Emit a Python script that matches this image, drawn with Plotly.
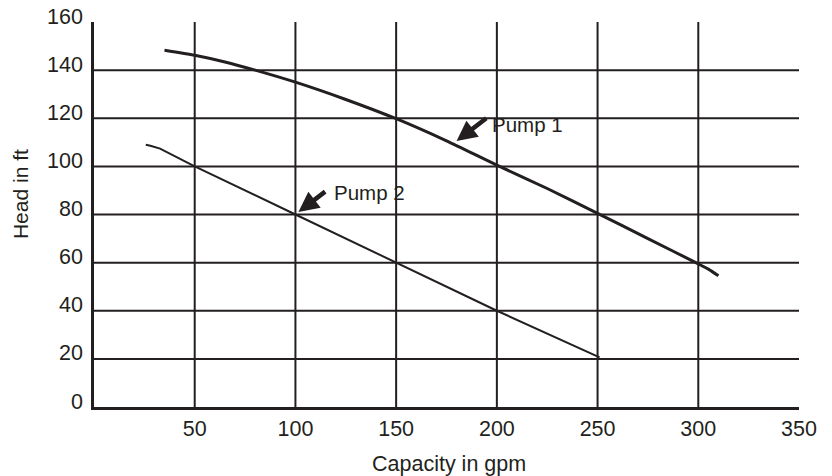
import plotly.graph_objects as go

# Data
pump1_x = [35, 50, 65, 80, 100, 125, 150, 175, 200, 225, 250, 275, 300, 305, 310]
pump1_y = [148.3, 146.2, 143.4, 140, 135, 127.8, 119.8, 110.6, 100.5, 90.8, 80.5, 70, 59.5, 57.3, 54.5]
pump2_x = [25.7, 28, 32.8, 50, 100, 150, 200, 251]
pump2_y = [109, 108.6, 107.4, 100, 80, 60, 40, 20.6]

x_ticks = [50, 100, 150, 200, 250, 300, 350]
y_ticks = [0, 20, 40, 60, 80, 100, 120, 140, 160]
x_grid = [50, 100, 150, 200, 250, 300]
y_grid = [20, 40, 60, 80, 100, 120, 140]
x_range = [0, 350]
y_range = [0, 160]

INK = "#231f20"
FONT = "Liberation Sans, Arial, sans-serif"

fig = go.Figure()
fig.add_trace(go.Scatter(x=pump1_x, y=pump1_y, mode="lines",
                         line=dict(color=INK, width=3, shape="spline", smoothing=0.6),
                         name="Pump 1", showlegend=False))
fig.add_trace(go.Scatter(x=pump2_x, y=pump2_y, mode="lines",
                         line=dict(color=INK, width=2), name="Pump 2",
                         showlegend=False))

shapes = []
for gx in x_grid:
    shapes.append(dict(type="line", xref="x", yref="y", x0=gx, x1=gx,
                       y0=y_range[0], y1=y_range[1],
                       line=dict(color=INK, width=2), layer="below"))
for gy in y_grid:
    shapes.append(dict(type="line", xref="x", yref="y", x0=x_range[0], x1=x_range[1],
                       y0=gy, y1=gy, line=dict(color=INK, width=2), layer="below"))

annotations = [
    dict(text="Head in ft", xref="paper", yref="paper", x=-0.105, y=0.553,
         textangle=-90, showarrow=False, xanchor="center", yanchor="middle",
         font=dict(size=21, color=INK, family=FONT)),
    dict(text="Capacity in gpm", xref="paper", yref="paper", x=0.503, y=-0.149,
         showarrow=False, xanchor="center", yanchor="middle",
         font=dict(size=21.5, color=INK, family=FONT)),
    dict(text="Pump 1", xref="x", yref="y", x=196.6, y=117.5, showarrow=False,
         xanchor="left", yanchor="middle", font=dict(size=20.5, color=INK, family=FONT)),
    dict(text="Pump 2", xref="x", yref="y", x=118, y=89.3, showarrow=False,
         xanchor="left", yanchor="middle", font=dict(size=20.5, color=INK, family=FONT)),
    dict(text="", xref="x", yref="y", x=180, y=110.5, axref="x", ayref="y",
         ax=195.5, ay=120.5, showarrow=True, arrowhead=2, arrowsize=0.9,
         arrowwidth=4.5, arrowcolor=INK),
    dict(text="", xref="x", yref="y", x=101.5, y=81, axref="x", ayref="y",
         ax=115.5, ay=90, showarrow=True, arrowhead=2, arrowsize=0.9,
         arrowwidth=4.5, arrowcolor=INK),
]

fig.update_layout(
    template="none",
    width=832, height=476,
    margin=dict(l=94, r=33, t=22, b=69, pad=0),
    paper_bgcolor="white", plot_bgcolor="white",
    shapes=shapes, annotations=annotations,
    font=dict(family=FONT, size=21.5, color=INK),
    xaxis=dict(range=x_range, tickvals=x_ticks, ticktext=[str(v) for v in x_ticks],
               showgrid=False, zeroline=False, showline=True, linecolor=INK,
               linewidth=2.5, ticks="", ticklabelstandoff=0, automargin=False,
               tickfont=dict(size=21.5, color=INK, family=FONT)),
    yaxis=dict(range=y_range, tickvals=y_ticks, ticktext=[str(v) for v in y_ticks],
               showgrid=False, zeroline=False, showline=True, linecolor=INK,
               linewidth=2.5, ticks="", ticklabelstandoff=4, ticklabelshift=-6,
               ticklabeloverflow="allow", automargin=False,
               tickfont=dict(size=21.5, color=INK, family=FONT)),
)

fig.write_html("out.html",
               config={"displayModeBar": False},
               post_script="document.body.style.margin='0';document.body.style.overflow='hidden';")
